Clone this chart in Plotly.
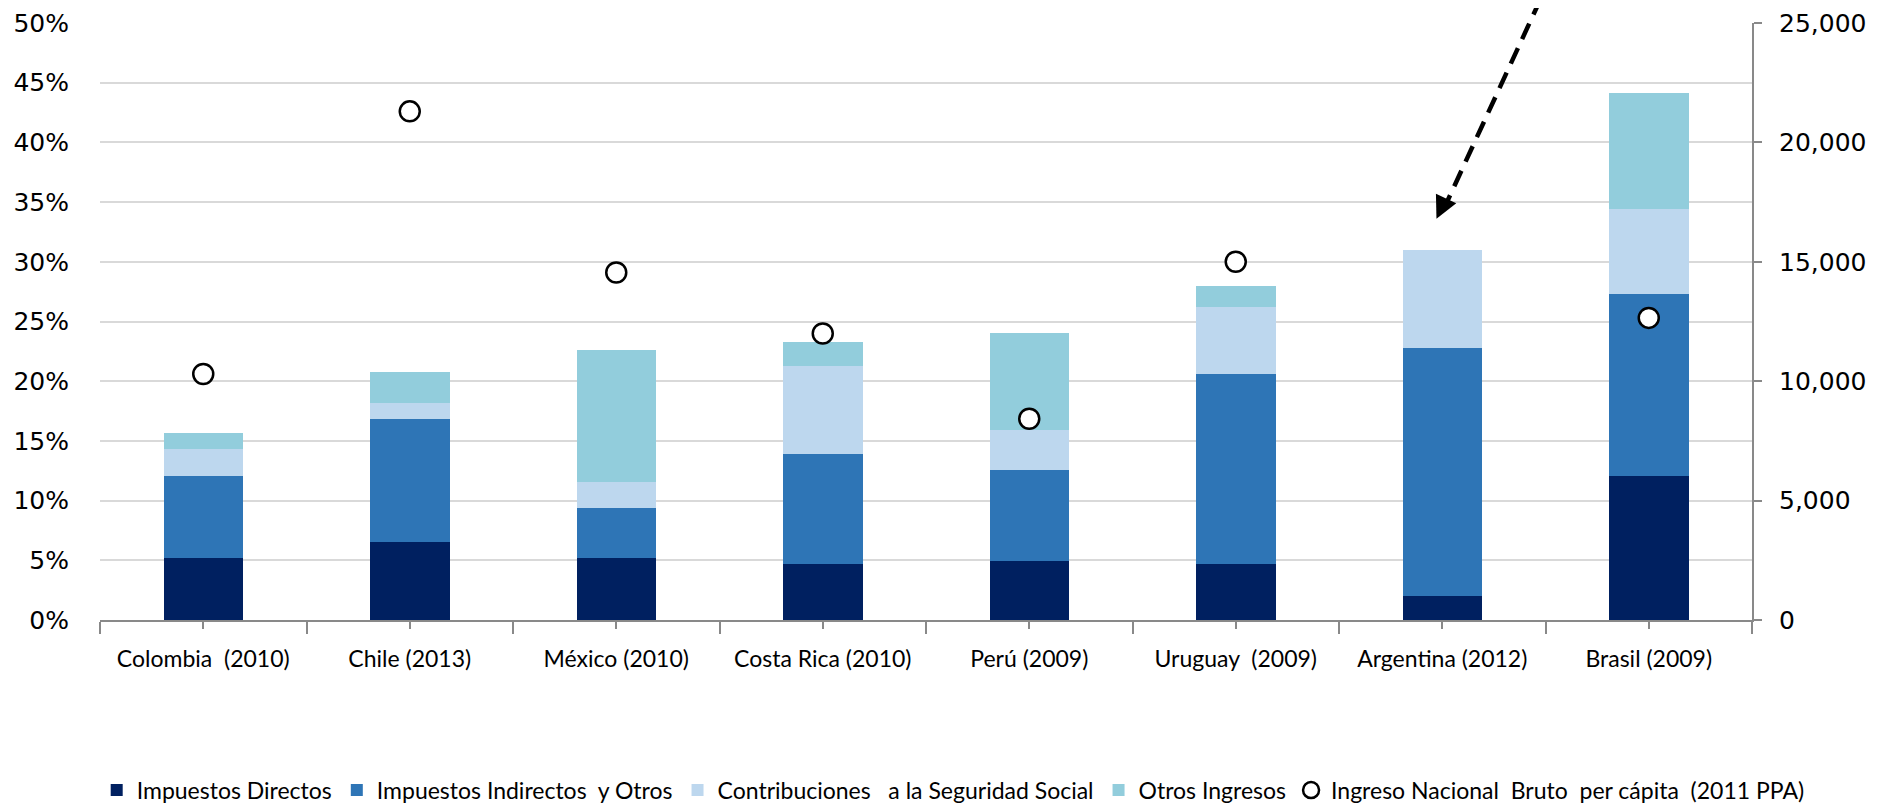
import plotly.graph_objects as go

categories = ["Colombia  (2010)", "Chile (2013)", "México (2010)", "Costa Rica (2010)",
              "Perú (2009)", "Uruguay  (2009)", "Argentina (2012)", "Brasil (2009)"]
directos = [5.2, 6.5, 5.2, 4.7, 4.9, 4.7, 2.0, 12.05]
indirectos = [6.85, 10.3, 4.2, 9.2, 7.65, 15.9, 20.8, 15.25]
seguridad = [2.3, 1.4, 2.2, 7.4, 3.35, 5.6, 8.2, 7.1]
otros = [1.3, 2.6, 11.0, 2.0, 8.1, 1.8, 0.0, 9.7]
ingreso = [10300, 21300, 14550, 12000, 8430, 15000, None, 12650]

names = ["Impuestos Directos", "Impuestos Indirectos  y Otros",
         "Contribuciones   a la Seguridad Social", "Otros Ingresos"]
colors = ["#002060", "#2E75B6", "#BDD7EE", "#92CDDC"]
series = [directos, indirectos, seguridad, otros]

xpos = list(range(len(categories)))

fig = go.Figure()
for name, col, vals in zip(names, colors, series):
    fig.add_trace(go.Bar(x=xpos, y=vals, name=name, marker=dict(color=col, line=dict(width=0)),
                         width=0.385))
fig.add_trace(go.Scatter(x=xpos, y=ingreso, name="Ingreso Nacional  Bruto  per cápita  (2011 PPA)",
                         mode="markers", yaxis="y2",
                         marker=dict(symbol="circle", size=20, color="white",
                                     line=dict(color="black", width=2.5))))

fig.update_layout(
    width=1872, height=795,
    barmode="stack",
    plot_bgcolor="white", paper_bgcolor="white",
    margin=dict(l=92, r=128, t=15, b=183, autoexpand=False),
    font=dict(family="Lato", color="black"),
    xaxis=dict(range=[-0.5, len(categories) - 0.5], tickvals=xpos, ticktext=categories,
               showgrid=False, zeroline=False, showline=True, linecolor="#898989", linewidth=2,
               ticks="outside", ticklen=7, tickwidth=2, tickcolor="#898989",
               minor=dict(dtick=1, tick0=-0.5, ticks="outside", ticklen=12, tickwidth=2,
                          tickcolor="#898989", showgrid=False),
               tickfont=dict(family="Lato", size=23, color="black"), ticklabelstandoff=10,
               automargin=False),
    yaxis=dict(range=[0, 50], dtick=5, ticksuffix="%", showgrid=True, gridcolor="#D9D9D9",
               gridwidth=1.5, zeroline=False, showline=False, ticks="",
               tickfont=dict(family="DejaVu Sans", size=25, color="black"), ticklabelstandoff=30,
               automargin=False),
    yaxis2=dict(range=[0, 25000], dtick=5000, tickformat=",", overlaying="y", side="right",
                showgrid=False, zeroline=False, showline=True, linecolor="#898989", linewidth=2,
                ticks="outside", ticklen=8, tickwidth=2, tickcolor="#898989",
                tickfont=dict(family="DejaVu Sans", size=25, color="black"), ticklabelstandoff=12,
                automargin=False),
    legend=dict(orientation="h", x=-0.002, xanchor="left", y=-0.285, yanchor="middle",
                traceorder="normal",
                font=dict(family="Lato", size=23, color="black"),
                itemwidth=30, tracegroupgap=0, bgcolor="rgba(0,0,0,0)"),
    showlegend=True,
)

# dashed arrow annotation
fig.add_shape(type="line", xref="paper", yref="paper", x0=0.872, y0=1.04, x1=0.812, y1=0.68,
              line=dict(color="black", width=4.5, dash="17px,10px"))
fig.add_annotation(xref="paper", yref="paper", x=0.809, y=0.672, ax=9, ay=-19,
                   showarrow=True, arrowhead=2, arrowsize=1, arrowwidth=4.5, arrowcolor="black", text="")

fig.write_html("out.html")
